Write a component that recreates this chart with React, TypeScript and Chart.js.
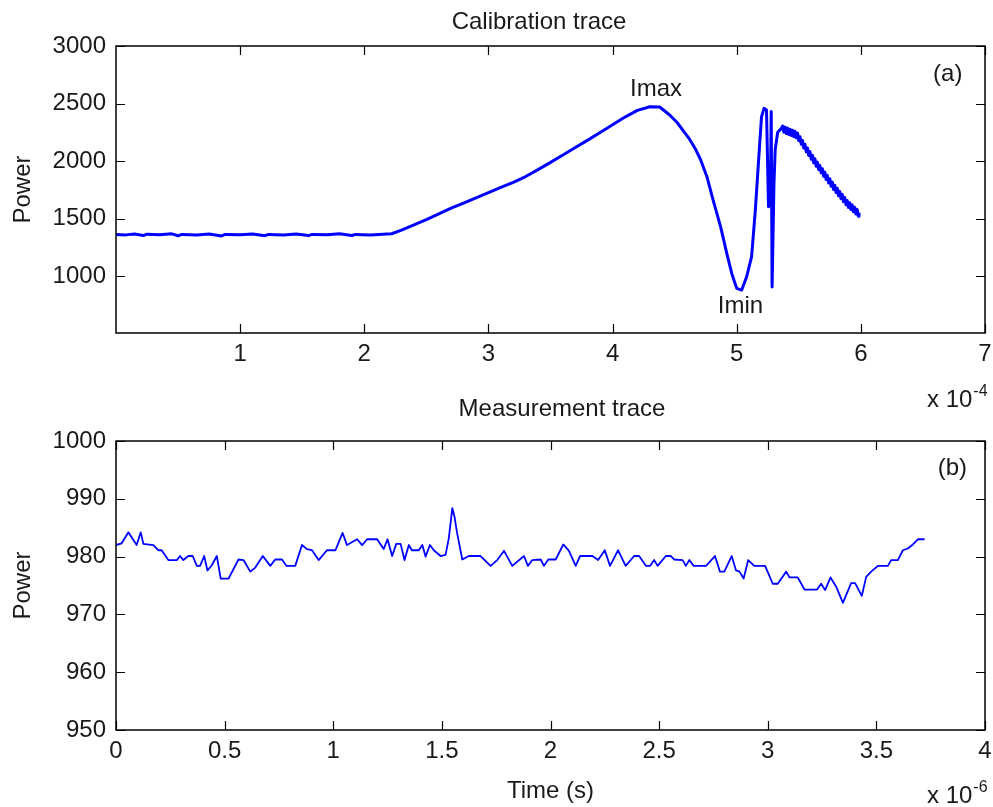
import React, { useEffect, useRef } from 'react';
import { Chart, registerables } from 'chart.js';

Chart.register(...registerables);

const FONT = '"Liberation Sans", Arial, Helvetica, sans-serif';
const TEXT = '#1a1a1a';
const BLUE = '#0000ff';

// ---- Calibration trace (time in units of 1e-4 s) ----
const CAL_T = [
  0.00, 0.08, 0.15, 0.22, 0.25, 0.35, 0.45, 0.50, 0.53, 0.65, 0.75, 0.85, 0.88, 1.00, 1.10, 1.20, 1.23,
  1.35, 1.45, 1.55, 1.58, 1.70, 1.80, 1.90, 1.93, 2.05, 2.15, 2.22,
  2.30, 2.40, 2.50, 2.60, 2.70, 2.80, 2.90, 3.00, 3.10, 3.20, 3.30, 3.40, 3.50, 3.60, 3.70, 3.80, 3.90,
  4.00, 4.10, 4.20, 4.30, 4.38, 4.46, 4.52, 4.57, 4.62, 4.67, 4.71, 4.76, 4.81, 4.87, 4.92, 4.96, 5.00, 5.04, 5.08,
  5.12, 5.15, 5.18, 5.20, 5.22, 5.24, 5.256, 5.27, 5.278, 5.285, 5.30, 5.31, 5.33, 5.36,
  5.37, 5.38, 5.39, 5.40, 5.41, 5.42, 5.43, 5.44, 5.45, 5.46, 5.47, 5.48, 5.49, 5.50, 5.51, 5.52, 5.53,
  5.54, 5.55, 5.56, 5.57, 5.58, 5.59, 5.60, 5.61, 5.62, 5.63, 5.64, 5.65, 5.66, 5.67, 5.68, 5.69, 5.70,
  5.71, 5.72, 5.73, 5.74, 5.75, 5.76, 5.77, 5.78, 5.79, 5.80, 5.81, 5.82, 5.83, 5.84, 5.85, 5.86, 5.87,
  5.88, 5.89, 5.90, 5.91, 5.92, 5.93, 5.94, 5.95, 5.96, 5.97, 5.98, 5.985,
];
const CAL_P = [
  1362, 1358, 1366, 1352, 1364, 1360, 1367, 1350, 1362, 1358, 1365, 1349, 1362, 1359, 1366, 1351, 1362,
  1358, 1366, 1352, 1362, 1359, 1367, 1353, 1362, 1358, 1364, 1368,
  1400, 1445, 1490, 1540, 1590, 1635, 1680, 1725, 1770, 1815, 1865, 1925, 1988, 2052, 2118, 2182, 2248,
  2315, 2382, 2440, 2472, 2470, 2400, 2335, 2262, 2190, 2100, 2009, 1864, 1661, 1429, 1197, 1023, 893, 878, 994,
  1168, 1574, 2067, 2386, 2458, 2443, 1603, 1650, 2430, 905, 1800, 2100, 2250, 2284,
  2304, 2250, 2295, 2240, 2286, 2231, 2276, 2222, 2267, 2212, 2258, 2203, 2243, 2177, 2211, 2145, 2179,
  2113, 2146, 2080, 2114, 2048, 2082, 2016, 2050, 1984, 2020, 1955, 1991, 1926, 1962, 1897, 1933, 1868,
  1904, 1839, 1875, 1810, 1846, 1781, 1817, 1752, 1789, 1726, 1763, 1699, 1736, 1673, 1710, 1647, 1683,
  1620, 1657, 1597, 1638, 1578, 1619, 1559, 1599, 1539, 1580, 1520, 1550,
];

// ---- Measurement trace (time in units of 1e-6 s) ----
const MEAS_T = [
  0.00, 0.026, 0.057, 0.095, 0.114, 0.126, 0.172, 0.195, 0.21, 0.241, 0.28, 0.295, 0.31, 0.333, 0.353,
  0.372, 0.387, 0.406, 0.421, 0.441, 0.464, 0.482, 0.518, 0.564, 0.587, 0.618, 0.641, 0.676, 0.71, 0.733,
  0.764, 0.784, 0.825, 0.856, 0.879, 0.902, 0.933, 0.971, 1.01, 1.043, 1.063, 1.11, 1.133, 1.156, 1.202,
  1.232, 1.25, 1.271, 1.29, 1.31, 1.328, 1.348, 1.362, 1.394, 1.41, 1.425, 1.445, 1.463, 1.494, 1.517,
  1.532, 1.548, 1.558, 1.57, 1.594, 1.624, 1.678, 1.724, 1.755, 1.786, 1.824, 1.878, 1.896, 1.916, 1.955,
  1.97, 1.99, 2.024, 2.059, 2.085, 2.116, 2.136, 2.193, 2.219, 2.25, 2.274, 2.311, 2.346, 2.385, 2.408,
  2.439, 2.459, 2.477, 2.493, 2.531, 2.554, 2.569, 2.608, 2.623, 2.639, 2.659, 2.716, 2.757, 2.78, 2.8,
  2.834, 2.854, 2.87, 2.889, 2.91, 2.938, 2.988, 3.023, 3.046, 3.085, 3.1, 3.138, 3.169, 3.227, 3.246,
  3.264, 3.289, 3.315, 3.346, 3.384, 3.402, 3.433, 3.453, 3.476, 3.507, 3.553, 3.568, 3.599, 3.622, 3.645,
  3.668, 3.691, 3.722,
];
const MEAS_P = [
  982.0, 982.3, 984.2, 982.0, 984.2, 982.2, 982.0, 981.1, 981.1, 979.4, 979.4, 980.1, 979.4, 980.1, 980.1,
  978.4, 978.4, 980.1, 977.6, 978.5, 980.1, 976.2, 976.2, 979.5, 979.4, 977.4, 978.1, 980.1, 978.4, 979.5,
  979.5, 978.4, 978.4, 982.0, 981.3, 981.1, 979.4, 981.1, 981.1, 984.1, 982.0, 983.0, 982.0, 983.0, 983.0,
  981.3, 983.0, 980.1, 982.2, 982.2, 979.4, 982.0, 981.1, 981.1, 982.0, 980.0, 982.0, 981.1, 980.1, 980.3,
  983.2, 988.4, 986.9, 984.1, 979.5, 980.1, 980.1, 978.4, 979.4, 981.0, 978.4, 980.1, 978.4, 979.4, 979.5,
  978.4, 979.5, 979.5, 982.1, 981.0, 978.4, 980.1, 980.1, 979.4, 981.1, 978.4, 981.1, 978.4, 980.1, 980.1,
  978.4, 978.4, 979.4, 978.4, 980.1, 980.1, 979.5, 979.4, 978.4, 979.4, 978.4, 978.4, 980.1, 977.4, 977.4,
  980.1, 977.6, 977.4, 976.2, 979.4, 978.4, 978.4, 975.3, 975.3, 977.4, 976.4, 976.4, 974.3, 974.3, 975.3,
  974.2, 976.4, 974.8, 972.0, 975.4, 975.4, 973.2, 976.5, 977.4, 978.4, 978.4, 979.4, 979.4, 981.1, 981.4,
  982.1, 983.0, 983.0,
];

// ---- Ticks ----
const CAL_X_TICKS = [1, 2, 3, 4, 5, 6, 7];
const CAL_Y_TICKS = [1000, 1500, 2000, 2500, 3000];
const MEAS_X_TICKS = [0, 0.5, 1, 1.5, 2, 2.5, 3, 3.5, 4];
const MEAS_Y_TICKS = [950, 960, 970, 980, 990, 1000];

// ---- Text annotations (data coordinates) ----
const CAL_NOTES = [
  { text: 'Imax', x: 4.35, y: 2626 },
  { text: 'Imin', x: 5.03, y: 739 },
  { text: '(a)', x: 6.7, y: 2757 },
];
const MEAS_NOTES = [{ text: '(b)', x: 3.85, y: 995.3 }];

type Note = { text: string; x: number; y: number };

function makePlugin(
  title: string,
  titleDx: number,
  titleDy: number,
  notes: Note[],
  exponent: string,
  expDy: number
) {
  return {
    id: 'matlabAxes',
    afterDraw(chart: any) {
      const { ctx, chartArea: a, scales } = chart;
      const xs = scales.x;
      const ys = scales.y;
      ctx.save();
      ctx.strokeStyle = '#000';
      ctx.lineWidth = 1.5;
      ctx.strokeRect(a.left, a.top, a.right - a.left, a.bottom - a.top);
      const T = 9;
      ctx.lineWidth = 1.2;
      ctx.beginPath();
      xs.ticks.forEach((t: any) => {
        const px = Math.round(xs.getPixelForValue(t.value)) + 0.5;
        ctx.moveTo(px, a.bottom);
        ctx.lineTo(px, a.bottom - T);
        ctx.moveTo(px, a.top);
        ctx.lineTo(px, a.top + T);
      });
      ys.ticks.forEach((t: any) => {
        const py = Math.round(ys.getPixelForValue(t.value)) + 0.5;
        ctx.moveTo(a.left, py);
        ctx.lineTo(a.left + T, py);
        ctx.moveTo(a.right, py);
        ctx.lineTo(a.right - T, py);
      });
      ctx.stroke();

      ctx.fillStyle = TEXT;
      ctx.font = `24px ${FONT}`;
      ctx.textAlign = 'center';
      ctx.textBaseline = 'middle';
      // plot title
      ctx.fillText(title, (a.left + a.right) / 2 + titleDx, a.top - titleDy);
      notes.forEach((n) => {
        ctx.fillText(n.text, xs.getPixelForValue(n.x), ys.getPixelForValue(n.y));
      });

      ctx.textAlign = 'left';
      ctx.textBaseline = 'alphabetic';
      const bx = a.right - 58;
      const by = a.bottom + expDy;
      ctx.fillText('x 10', bx, by);
      const w = ctx.measureText('x 10').width;
      ctx.font = `16px ${FONT}`;
      ctx.fillText(exponent, bx + w + 1, by - 11);
      ctx.restore();
    },
  };
}

const tickFont = { family: FONT, size: 24, weight: 'normal' as const, lineHeight: 1.2 };

function makeConfig(opts: {
  data: { x: number; y: number }[];
  lineWidth: number;
  padTop: number;
  xMin: number;
  xMax: number;
  yMin: number;
  yMax: number;
  xTicks: number[];
  yTicks: number[];
  xHeight: number;
  xTitle?: string;
  plugin: any;
}): any {
  return {
    type: 'line',
    data: {
      datasets: [
        {
          data: opts.data,
          borderColor: BLUE,
          backgroundColor: BLUE,
          borderWidth: opts.lineWidth,
          pointRadius: 0,
          tension: 0,
          fill: false,
          borderJoinStyle: 'round',
        },
      ],
    },
    options: {
      animation: false,
      responsive: false,
      events: [],
      layout: { padding: { left: 0, right: 0, top: opts.padTop, bottom: 0 } },
      plugins: {
        legend: { display: false },
        tooltip: { enabled: false },
        title: { display: false },
      },
      scales: {
        x: {
          type: 'linear',
          min: opts.xMin,
          max: opts.xMax,
          grid: { display: false, drawTicks: false },
          border: { display: false },
          afterBuildTicks: (s: any) => {
            s.ticks = opts.xTicks.map((v) => ({ value: v }));
          },
          afterFit: (s: any) => {
            s.height = opts.xHeight;
            s.paddingRight = 8;
            s.paddingLeft = 0;
          },
          ticks: {
            padding: 7,
            color: TEXT,
            font: tickFont,
            maxRotation: 0,
            autoSkip: false,
            callback: (v: any) => String(v),
          },
          title: opts.xTitle
            ? {
                display: true,
                text: opts.xTitle,
                color: TEXT,
                font: tickFont,
                padding: { top: 0, bottom: 1.6 },
              }
            : { display: false },
        },
        y: {
          type: 'linear',
          min: opts.yMin,
          max: opts.yMax,
          grid: { display: false, drawTicks: false },
          border: { display: false },
          afterBuildTicks: (s: any) => {
            s.ticks = opts.yTicks.map((v) => ({ value: v }));
          },
          afterFit: (s: any) => {
            s.width = 116;
          },
          ticks: {
            padding: 10,
            color: TEXT,
            font: tickFont,
            autoSkip: false,
            callback: (v: any) => String(v),
          },
          title: {
            display: true,
            text: 'Power',
            color: TEXT,
            font: tickFont,
            padding: { top: 8.6, bottom: 0 },
          },
        },
      },
    },
    plugins: [opts.plugin],
  };
}

export default function App() {
  const topRef = useRef<HTMLCanvasElement | null>(null);
  const botRef = useRef<HTMLCanvasElement | null>(null);

  useEffect(() => {
    const calData = CAL_T.map((t, i) => ({ x: t, y: CAL_P[i] }));
    const measData = MEAS_T.map((t, i) => ({ x: t, y: MEAS_P[i] }));

    const c1 = new Chart(
      topRef.current as HTMLCanvasElement,
      makeConfig({
        data: calData,
        lineWidth: 3,
        padTop: 46,
        xMin: 0,
        xMax: 7,
        yMin: 505,
        yMax: 3000,
        xTicks: CAL_X_TICKS,
        yTicks: CAL_Y_TICKS,
        xHeight: 87,
        plugin: makePlugin('Calibration trace', -11.5, 24, CAL_NOTES, '-4', 74),
      })
    );
    const c2 = new Chart(
      botRef.current as HTMLCanvasElement,
      makeConfig({
        data: measData,
        lineWidth: 1.8,
        padTop: 56,
        xMin: 0,
        xMax: 4,
        yMin: 950,
        yMax: 1000,
        xTicks: MEAS_X_TICKS,
        yTicks: MEAS_Y_TICKS,
        xHeight: 77,
        xTitle: 'Time (s)',
        plugin: makePlugin('Measurement trace', 11.5, 32, MEAS_NOTES, '-6', 73),
      })
    );
    return () => {
      c1.destroy();
      c2.destroy();
    };
  }, []);

  return (
    <div
      style={{
        position: 'absolute',
        left: 0,
        top: 0,
        width: 993,
        height: 807,
        background: '#fff',
        overflow: 'hidden',
      }}
    >
      <canvas
        ref={topRef}
        width={993}
        height={420}
        style={{ position: 'absolute', left: 0, top: 0 }}
      />
      <canvas
        ref={botRef}
        width={993}
        height={422}
        style={{ position: 'absolute', left: 0, top: 385 }}
      />
    </div>
  );
}
